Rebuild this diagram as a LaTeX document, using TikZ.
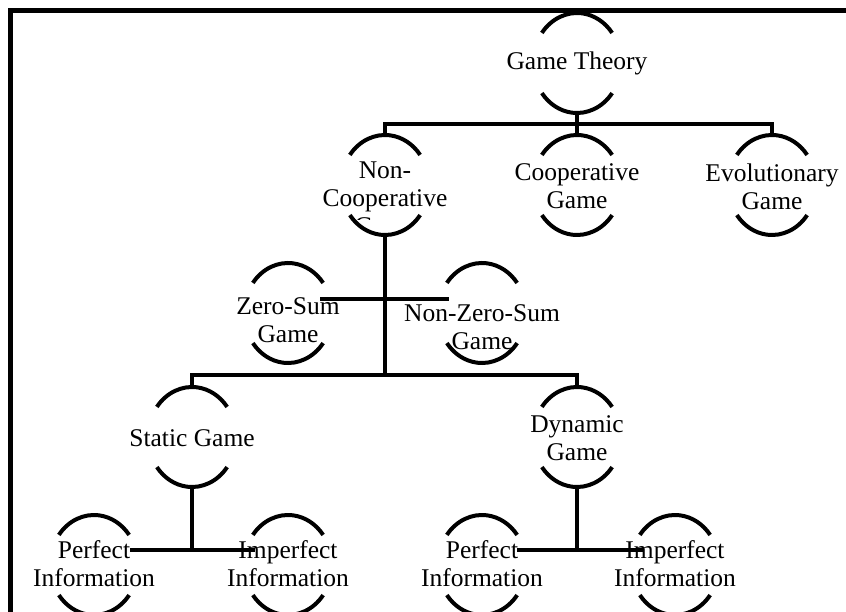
\documentclass[tikz,border=0pt]{standalone}
\usepackage{fontspec}
\setmainfont{Liberation Serif}
\usetikzlibrary{calc}
\tikzset{
  gbox/.style={rectangle,minimum width=88pt,minimum height=100pt,inner sep=0pt},
  gtext/.style={inner sep=0pt,align=center,font=\fontsize{25.5}{28}\selectfont},
  arcline/.style={line width=4pt,line cap=butt},
  conn/.style={line width=4pt,line join=miter},
  frameline/.style={line width=5pt,line join=miter}
}
\newcommand\gnodearcs[1]{%
  \draw[arcline] ($(#1.center)+(37:44 and 50)$) arc[start angle=37,end angle=143,x radius=44,y radius=50];
  \draw[arcline] ($(#1.center)+(217:44 and 50)$) arc[start angle=217,end angle=323,x radius=44,y radius=50];
}
\newcommand\gnode[5]{%
  \node[gbox] (#1) at (#2,#3) {};
  \node[gtext] (#1-t) at (#2,#4) {#5};
  \gnodearcs{#1}
}
\begin{document}
\begin{tikzpicture}[x=1pt,y=-1pt]
\useasboundingbox (0,0) rectangle (846,612);
\fill[white] (0,0) rectangle (846,612);
\draw[frameline] (10.5,700) -- (10.5,10.5) -- (900,10.5);

\gnode{gt}{577}{63}{63}{Game Theory}
% Non-Cooperative Game with clipped last line
\node[gbox] (nc) at (385,185) {};
\begin{scope}
  \clip (290,140) rectangle (480,220);
  \node[gtext] (nc-t) at (385,198) {Non-\\Cooperative\\Game};
\end{scope}
\gnodearcs{nc}
\gnode{coop}{577}{185}{186}{Cooperative\\Game}
\gnode{evo}{772}{185}{187}{Evolutionary\\Game}
\gnode{zs}{288}{313}{320}{Zero-Sum\\Game}
\gnode{nzs}{482}{313}{327}{Non-Zero-Sum\\Game}
\gnode{stat}{192}{437}{438}{Static Game}
\gnode{dyn}{577}{437}{438}{Dynamic\\Game}
\gnode{sp}{94}{565}{564}{Perfect\\Information}
\gnode{si}{288}{565}{564}{Imperfect\\Information}
\gnode{dp}{482}{565}{564}{Perfect\\Information}
\gnode{di}{675}{565}{564}{Imperfect\\Information}

% connectors
\coordinate (bar1) at (577,124);
\draw[conn] (gt.south) -- (bar1);
\draw[conn] (nc.north) |- (bar1) -| (evo.north);
\draw[conn] (bar1) -- (coop.north);

\coordinate (bar3) at (385,375);
\draw[conn] (nc.south) -- (bar3);
\draw[conn] ($(zs.center)+(32,-14)$) -- ($(nzs.center)+(-33,-14)$);
\draw[conn] (stat.north) |- (bar3) -| (dyn.north);

\coordinate (bar4) at (192,550);
\draw[conn] (stat.south) -- (bar4);
\draw[conn] ($(sp.center)+(36,-15)$) -- ($(si.center)+(-33,-15)$);

\coordinate (bar5) at (577,550);
\draw[conn] (dyn.south) -- (bar5);
\draw[conn] ($(dp.center)+(35,-15)$) -- ($(di.center)+(-32,-15)$);
\end{tikzpicture}
\end{document}
